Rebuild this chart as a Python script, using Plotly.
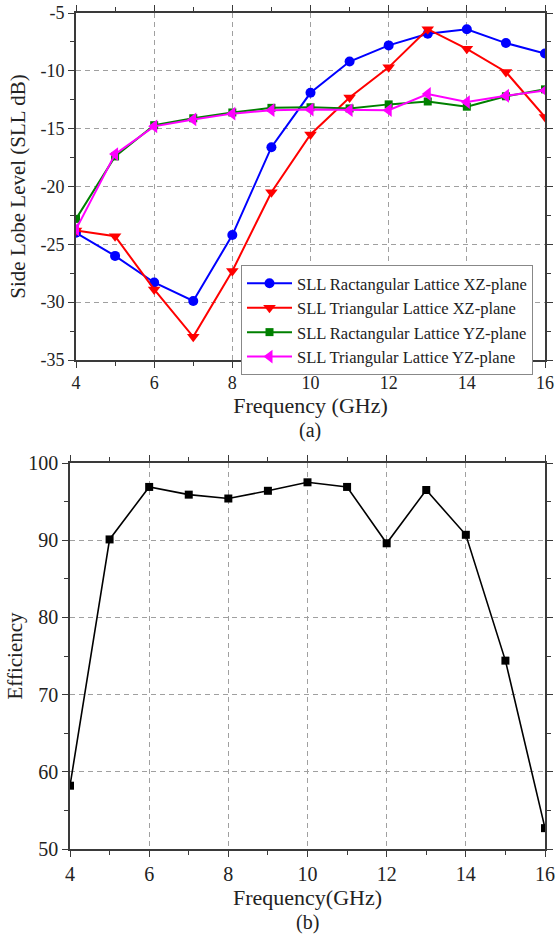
import plotly.graph_objects as go

freq = [4, 5, 6, 7, 8, 9, 10, 11, 12, 13, 14, 15, 16]
sll_rect_xz = [-24.0, -26.0, -28.3, -29.9, -24.2, -16.6, -11.9, -9.2, -7.8, -6.8, -6.4, -7.6, -8.5]
sll_tri_xz = [-23.8, -24.3, -28.9, -33.0, -27.3, -20.5, -15.5, -12.3, -9.7, -6.4, -8.1, -10.1, -14.0]
sll_rect_yz = [-22.8, -17.4, -14.7, -14.1, -13.6, -13.2, -13.15, -13.25, -12.9, -12.65, -13.1, -12.2, -11.6]
sll_tri_yz = [-23.7, -17.2, -14.8, -14.2, -13.7, -13.4, -13.35, -13.4, -13.4, -12.0, -12.7, -12.15, -11.7]
efficiency = [58.2, 90.1, 96.9, 95.9, 95.4, 96.4, 97.5, 96.9, 89.6, 96.5, 90.7, 74.4, 52.7]

names = ["SLL Ractangular Lattice XZ-plane", "SLL Triangular Lattice XZ-plane",
         "SLL Ractangular Lattice YZ-plane", "SLL Triangular Lattice YZ-plane"]
colors = ["#0000FF", "#FF0000", "#008000", "#FF00FF"]
symbols = ["circle", "triangle-down", "square", "triangle-left"]
msizes = [10, 11, 8, 12]

x_ticks = [4, 6, 8, 10, 12, 14, 16]
y1_ticks = [-5, -10, -15, -20, -25, -30, -35]
y1_labels = ["-5", "-10", "-15", "-20", "-25", "-30", "-35"]
y2_ticks = [50, 60, 70, 80, 90, 100]

FONT = "Liberation Serif, Times New Roman, serif"
TXT = "#222222"

fig = go.Figure()
for ys, nm, c, s, ms in zip([sll_rect_xz, sll_tri_xz, sll_rect_yz, sll_tri_yz], names, colors, symbols, msizes):
    fig.add_trace(go.Scatter(x=freq, y=ys, name=nm, mode="lines+markers",
                             line=dict(color=c, width=2),
                             marker=dict(symbol=s, size=ms, color=c),
                             xaxis="x", yaxis="y"))

fig.add_trace(go.Scatter(x=freq, y=efficiency, mode="lines+markers", showlegend=False,
                         line=dict(color="black", width=1.6),
                         marker=dict(symbol="square", size=8, color="black"),
                         xaxis="x2", yaxis="y2"))

W, H = 555, 934


def axis_style(fs):
    return dict(showline=True, linecolor="#3a3a3a", linewidth=1.6, mirror="ticks",
                ticks="outside", ticklen=6, tickwidth=1.2, tickcolor="#3a3a3a",
                showgrid=True, gridcolor="#A0A0A0", griddash="5px,4px", gridwidth=1,
                zeroline=False, automargin=False,
                tickfont=dict(family=FONT, size=fs, color=TXT))


minor_x = dict(ticks="outside", dtick=1, ticklen=4, tickcolor="#3a3a3a", showgrid=False)

fig.update_layout(
    width=W, height=H, margin=dict(l=0, r=0, t=0, b=0),
    paper_bgcolor="white", plot_bgcolor="white",
    font=dict(family=FONT, color=TXT),
    xaxis=dict(domain=[76 / W, 545 / W], range=[4, 16], tickvals=x_ticks, anchor="y",
               minor=minor_x, ticklabelstandoff=0,
               title=dict(text="Frequency (GHz)", standoff=2,
                          font=dict(family=FONT, size=22, color=TXT)), **axis_style(18)),
    yaxis=dict(domain=[1 - 360 / H, 1 - 13 / H], range=[-35, -5], tickvals=y1_ticks, ticktext=y1_labels,
               anchor="x",
               minor=dict(ticks="outside", dtick=2.5, ticklen=4, tickcolor="#3a3a3a", showgrid=False),
               title=dict(text="Side Lobe Level (SLL dB)", standoff=9,
                          font=dict(family=FONT, size=21, color=TXT)), **axis_style(18)),
    xaxis2=dict(domain=[70 / W, 545 / W], range=[4, 16], tickvals=x_ticks, anchor="y2",
                minor=minor_x, ticklabelstandoff=0,
                title=dict(text="Frequency(GHz)", standoff=1,
                           font=dict(family=FONT, size=22, color=TXT)), **axis_style(20)),
    yaxis2=dict(domain=[1 - 849 / H, 1 - 463 / H], range=[50, 100], tickvals=y2_ticks, anchor="x2",
                minor=dict(ticks="outside", dtick=5, ticklen=4, tickcolor="#3a3a3a", showgrid=False),
                title=dict(text="Efficiency", standoff=0,
                           font=dict(family=FONT, size=21, color=TXT)), **axis_style(20)),
    legend=dict(x=241 / W, y=1 - 265 / H, xanchor="left", yanchor="top",
                bgcolor="white", bordercolor="#888888", borderwidth=1,
                font=dict(family=FONT, size=16.5, color=TXT),
                tracegroupgap=0, itemwidth=45),
    annotations=[
        dict(text="(a)", x=0.5 * (76 + 545) / W, y=1 - 431 / H, xref="paper", yref="paper",
             xanchor="center", yanchor="middle",
             showarrow=False, font=dict(family=FONT, size=20, color=TXT)),
        dict(text="(b)", x=0.5 * (70 + 545) / W, y=1 - 922 / H, xref="paper", yref="paper",
             xanchor="center", yanchor="middle",
             showarrow=False, font=dict(family=FONT, size=20, color=TXT)),
    ],
)

fig.write_html("out.html", config={"displayModeBar": False},
               post_script="document.body.style.margin='0';")
